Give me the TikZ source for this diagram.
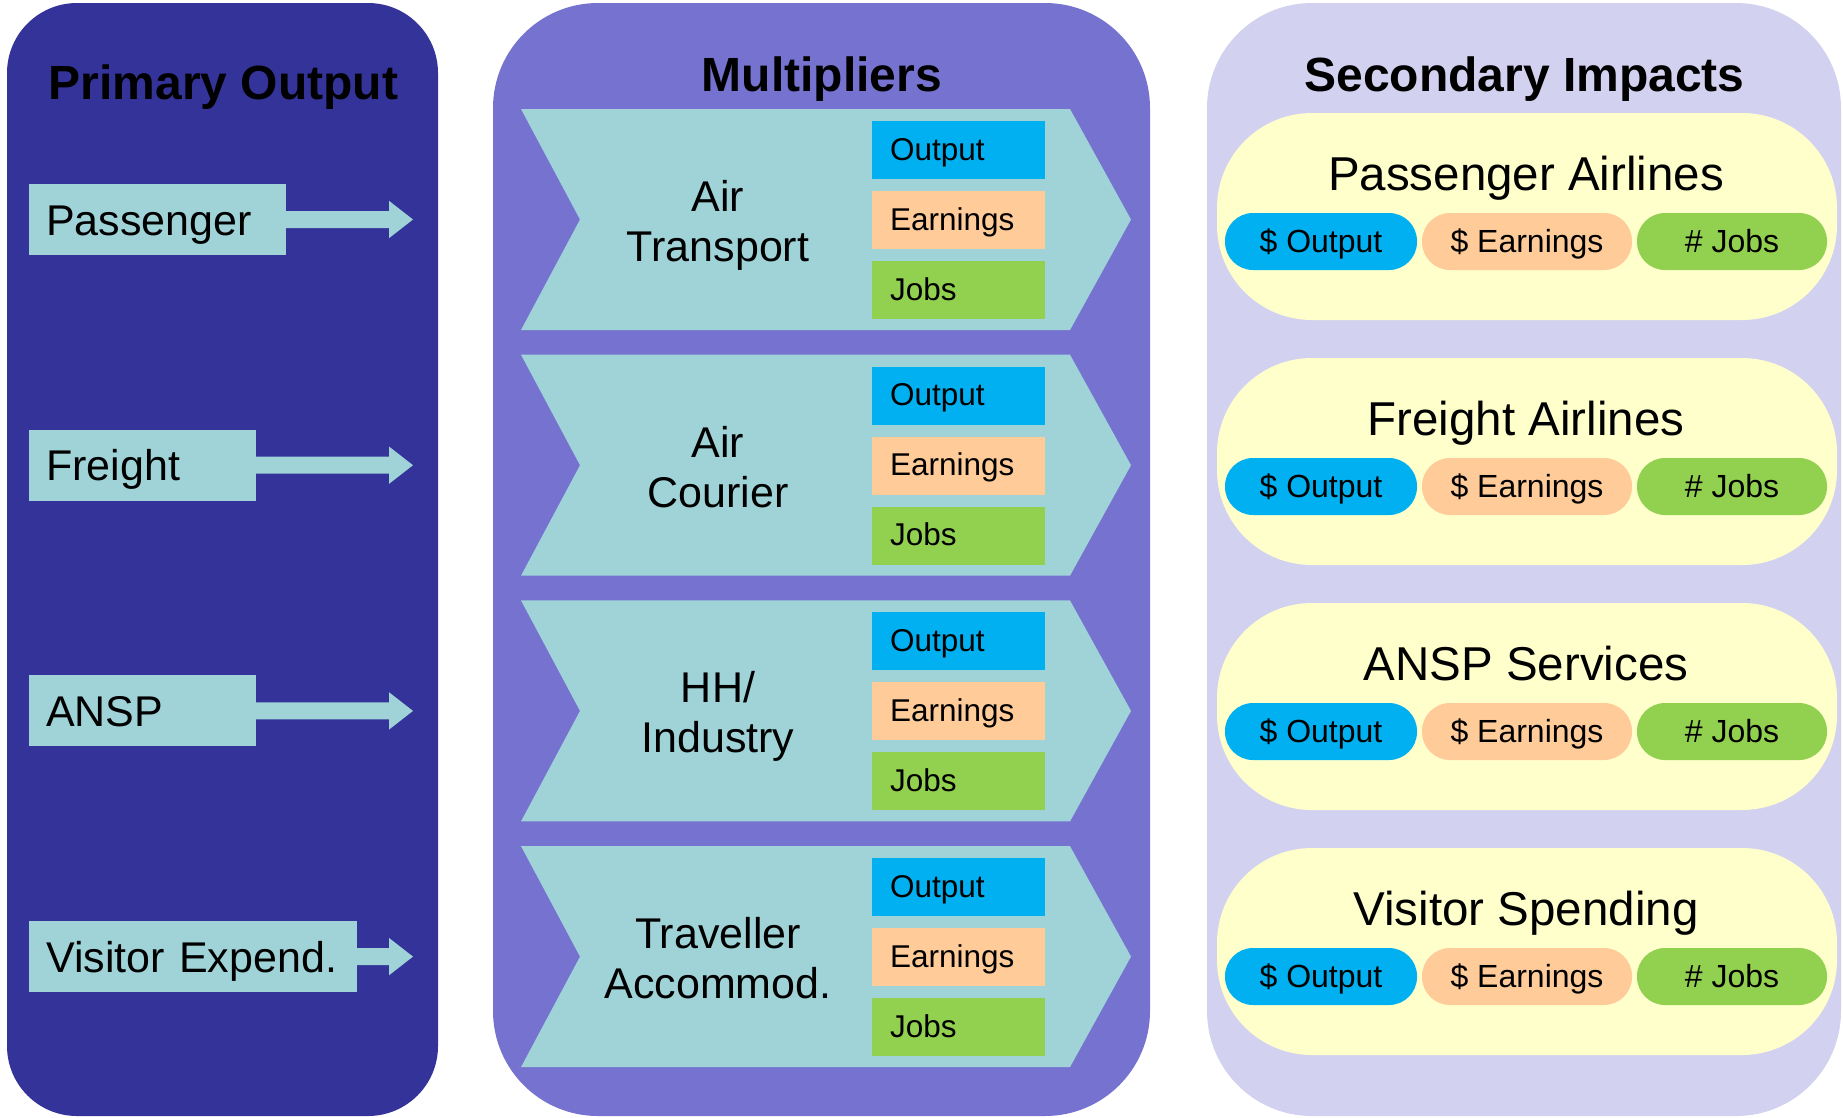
\documentclass[tikz,border=0pt]{standalone}
\usepackage{fontspec}
\setmainfont{Liberation Sans}
\usetikzlibrary{calc}
\definecolor{leftbg}{HTML}{343399}
\definecolor{midbg}{HTML}{7573CF}
\definecolor{rightbg}{HTML}{D2D2F0}
\definecolor{tealc}{HTML}{9FD3D8}
\definecolor{ovalc}{HTML}{FFFFCC}
\definecolor{bluec}{HTML}{00B0F0}
\definecolor{peachc}{HTML}{FFCB99}
\definecolor{greenc}{HTML}{92D050}
\begin{document}
\begin{tikzpicture}[x=1pt,y=-1pt,
  panel/.style={inner sep=0pt, draw=none},
  ptitle/.style={font=\fontsize{48}{57}\selectfont\bfseries, inner sep=0pt, anchor=base},
  pbox/.style={fill=tealc, inner xsep=17pt, inner ysep=0pt, minimum height=71pt, text height=31pt, text depth=0pt, anchor=west, align=left, font=\fontsize{43}{50}\selectfont},
  chevlab/.style={font=\fontsize{43}{50}\selectfont, align=center, inner sep=0pt, anchor=north},
  mbox/.style={inner xsep=18pt, inner ysep=0pt, minimum width=173pt, minimum height=58pt, text width=137pt, align=left, text height=20pt, text depth=0pt, font=\fontsize{31.5}{37}\selectfont},
  oval/.style={fill=ovalc, rounded corners=95pt, minimum width=620pt, minimum height=207pt, inner sep=0pt},
  ovtitle/.style={font=\fontsize{47.5}{56}\selectfont, inner sep=0pt, anchor=base},
  pill/.style={rounded corners=28pt, minimum height=57pt, inner sep=0pt, text height=22pt, text depth=0pt, font=\fontsize{32}{38}\selectfont},
]
\useasboundingbox (0,0) rectangle (1843,1117);

% panels
\node[panel, fill=leftbg, rounded corners=70pt, minimum width=431pt, minimum height=1113pt] (leftpanel) at (222.5,559.5) {};
\node[panel, fill=midbg, rounded corners=105pt, minimum width=657pt, minimum height=1113pt] (midpanel) at (821.5,559.5) {};
\node[panel, fill=rightbg, rounded corners=105pt, minimum width=634pt, minimum height=1113pt] (rightpanel) at (1524,559.5) {};

% titles
\node[ptitle] (t1) at (223.5,99) {Primary Output};
\node[ptitle] (t2) at (822,91.5) {Multipliers};
\node[ptitle] (t3) at (1524.5,91.5) {Secondary Impacts};

% left column
\foreach \i/\lab/\w in {0/Passenger/257,1/Freight/227,2/ANSP/227,3/Visitor Expend./328}{
  \pgfmathsetmacro\yc{219.5+245.7*\i}
  \pgfmathsetmacro\tw{\w-34}
  \node[pbox, text width=\tw pt] (po\i) at (29,\yc) {\lab};
  \fill[tealc] ($(po\i.east)+(-1,-8.5)$) -- (389,\yc-8.5) -- (389,\yc-18.7) -- (413,\yc) -- (389,\yc+18.7) -- (389,\yc+8.5) -- ($(po\i.east)+(-1,8.5)$) -- cycle;
}

% middle column
\foreach \i/\la/\lb in {0/Air/Transport,1/Air/Courier,2/{HH/}/Industry,3/Traveller/Accommod.}{
  \pgfmathsetmacro\yc{219.5+245.7*\i}
  \fill[tealc] (521,\yc-110.5) -- (1070,\yc-110.5) -- (1131,\yc) -- (1070,\yc+110.5) -- (521,\yc+110.5) -- (580,\yc) -- cycle;
  \node[chevlab] (ml\i) at (718,\yc-39.3) {\la\\\lb};
  \node[mbox, fill=bluec] (mo\i) at (958.5,\yc-69.5) {Output};
  \node[mbox, fill=peachc] (me\i) at (958.5,\yc+0.5) {Earnings};
  \node[mbox, fill=greenc] (mj\i) at (958.5,\yc+70.5) {Jobs};
}

% right column
\foreach \i/\lab in {0/Passenger Airlines,1/Freight Airlines,2/ANSP Services,3/Visitor Spending}{
  \pgfmathsetmacro\yc{216.5+245*\i}
  \node[oval] (ov\i) at (1527,\yc) {};
  \node[ovtitle] (ot\i) at (1526,\yc-26) {\lab};
  \node[pill, fill=bluec, minimum width=192pt] (so\i) at (1321,\yc+25) {\$ Output};
  \node[pill, fill=peachc, minimum width=210pt] (se\i) at (1527,\yc+25) {\$ Earnings};
  \node[pill, fill=greenc, minimum width=190pt] (sj\i) at (1732,\yc+25) {\# Jobs};
}
\end{tikzpicture}
\end{document}
